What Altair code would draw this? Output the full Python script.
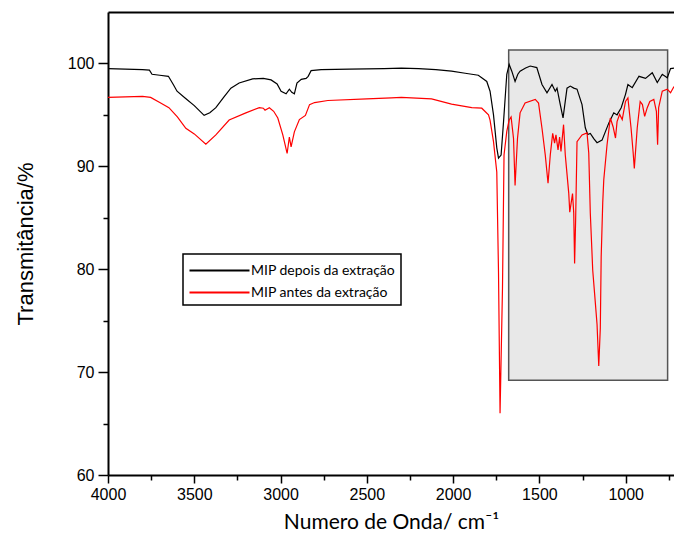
import altair as alt
import pandas as pd

# FTIR spectrum of the MIP after template extraction
wn_depois = [4000, 3900, 3800, 3760, 3745, 3700, 3650, 3620, 3600, 3550, 3500, 3443, 3410,
             3375, 3330, 3288, 3240, 3162, 3100, 3055, 3020, 2997, 2968, 2949, 2935, 2920,
             2905, 2880, 2852, 2840, 2823, 2765, 2600, 2400, 2300, 2200, 2100, 2009, 1930,
             1854, 1805, 1786, 1766, 1747, 1737, 1722, 1708, 1689, 1675, 1660, 1641, 1625,
             1612, 1580, 1553, 1515, 1485, 1456, 1427, 1408, 1398, 1379, 1363, 1340, 1321,
             1301, 1282, 1253, 1234, 1220, 1205, 1185, 1166, 1137, 1098, 1069, 1050, 1026,
             1001, 987, 962, 923, 885, 846, 817, 788, 759, 740, 720]
t_depois = [99.5, 99.45, 99.4, 99.35, 98.95, 98.85, 98.75, 97.9, 97.3, 96.6, 95.9, 94.95, 95.2,
            95.7, 96.7, 97.6, 98.1, 98.5, 98.55, 98.4, 98.0, 97.3, 97.05, 97.5, 97.2, 97.05,
            98.1, 98.45, 98.55, 98.75, 99.3, 99.4, 99.45, 99.5, 99.55, 99.5, 99.4, 99.25, 99.05,
            98.85, 98.25, 97.3, 95.0, 91.8, 90.8, 91.1, 94.3, 98.95, 99.9, 99.25, 98.25, 98.95,
            99.25, 99.55, 99.75, 99.6, 97.95, 97.15, 97.95, 97.3, 97.6, 96.0, 94.7, 97.6, 97.8,
            97.6, 97.5, 96.0, 93.75, 93.1, 93.2, 92.7, 92.3, 92.55, 94.2, 95.2, 95.0, 95.7,
            97.0, 97.95, 97.65, 98.75, 98.55, 99.1, 98.15, 98.95, 98.6, 99.5, 99.55]

# FTIR spectrum of the MIP before template extraction
wn_antes = [4000, 3900, 3800, 3753, 3700, 3647, 3598, 3549, 3500, 3433, 3375, 3298, 3201,
            3123, 3100, 3090, 3065, 3040, 3016, 2987, 2962, 2949, 2939, 2920, 2891, 2856,
            2832, 2803, 2726, 2500, 2358, 2300, 2125, 2009, 1892, 1834, 1795, 1786, 1766,
            1747, 1737, 1728, 1714, 1705, 1689, 1675, 1664, 1650, 1641, 1627, 1612, 1583,
            1524, 1505, 1485, 1466, 1450, 1437, 1423, 1412, 1404, 1392, 1383, 1375, 1360,
            1350, 1330, 1324, 1308, 1301, 1296, 1290, 1282, 1253, 1224, 1214, 1205, 1191,
            1180, 1166, 1156, 1147, 1142, 1133, 1127, 1108, 1089, 1073, 1059, 1050, 1035,
            1020, 1001, 987, 969, 957, 950, 933, 916, 903, 890, 875, 860, 837, 822, 815,
            809, 788, 759, 740, 720]
t_antes = [96.7, 96.75, 96.8, 96.7, 96.2, 95.7, 94.8, 93.7, 93.15, 92.15, 93.05, 94.5, 95.2,
           95.7, 95.65, 95.45, 95.7, 95.35, 94.7, 93.05, 91.25, 92.85, 91.9, 93.35, 94.55, 94.95,
           96.0, 96.2, 96.4, 96.55, 96.65, 96.7, 96.55, 96.05, 95.7, 95.65, 95.0, 94.5, 92.4,
           89.45, 79.7, 66.0, 78.1, 91.1, 93.4, 94.5, 94.8, 92.7, 88.15, 92.7, 95.2, 96.15,
           96.5, 96.15, 93.7, 91.1, 88.35, 91.1, 93.2, 92.25, 93.05, 91.6, 92.85, 91.45, 94.05,
           91.1, 87.4, 85.55, 87.35, 85.45, 80.55, 84.8, 92.4, 93.05, 93.25, 91.3, 85.45, 79.9,
           77.6, 74.65, 70.6, 74.3, 81.2, 86.45, 88.7, 92.1, 94.7, 93.85, 92.75, 94.35, 95.05,
           94.55, 96.3, 96.65, 93.75, 91.4, 89.8, 93.75, 96.3, 96.0, 94.85, 95.7, 96.3, 96.5,
           95.35, 92.1, 95.7, 97.3, 97.5, 97.15, 97.75]

series_names = ["MIP depois da extração", "MIP antes da extração"]
series_colors = ["#000000", "#ff0000"]

# highlighted fingerprint region
region_wn = [1678, 757]
region_t = [69.2, 101.3]

x_ticks = [4000, 3750, 3500, 3250, 3000, 2750, 2500, 2250, 2000, 1750, 1500, 1250, 1000, 750]
y_ticks = [60, 65, 70, 75, 80, 85, 90, 95, 100]

spectra = pd.concat([
    pd.DataFrame({"wn": wn_depois, "t": t_depois, "serie": series_names[0]}),
    pd.DataFrame({"wn": wn_antes, "t": t_antes, "serie": series_names[1]}),
])
region = pd.DataFrame({"x0": [region_wn[0]], "x1": [region_wn[1]],
                       "y0": [region_t[0]], "y1": [region_t[1]]})

x_scale = alt.Scale(domain=[4000, 720], nice=False, zero=False)
y_scale = alt.Scale(domain=[60, 105], nice=False, zero=False)

y_axis = alt.Axis(values=y_ticks,
                  labelExpr="datum.value % 10 === 0 ? datum.label : ''",
                  labelOverlap=False, labelFlush=False, labelPadding=4,
                  tickSize={"condition": {"test": "datum.value % 10 === 0", "value": 10}, "value": 5},
                  title="Transmitância/%", titleFont="Liberation Sans", titleFontSize=22,
                  titleFontWeight="normal", titlePadding=30)

box = alt.Chart(region).mark_rect(
    fill="#e8e8e8", stroke="#555555", strokeWidth=1.5
).encode(
    x=alt.X("x0:Q", scale=x_scale,
            axis=alt.Axis(orient="top", labels=False, ticks=False, title=None,
                          domainColor="black", domainWidth=2, grid=False)),
    x2="x1:Q",
    y=alt.Y("y0:Q", scale=y_scale, axis=y_axis),
    y2="y1:Q",
)

lines = alt.Chart(spectra).mark_line(strokeWidth=1.2, clip=True).encode(
    x=alt.X("wn:Q", scale=x_scale,
            axis=alt.Axis(values=x_ticks, format="d",
                          labelExpr="datum.value % 500 === 0 ? datum.label : ''",
                          labelOverlap=False, labelFlush=False,
                          tickSize={"condition": {"test": "datum.value % 500 === 0", "value": 8}, "value": 5},
                          title="Numero de Onda/ cm⁻¹", titleFont="Lato", titleFontSize=21,
                          titleFontWeight="normal", titlePadding=9)),
    y=alt.Y("t:Q", scale=y_scale, axis=y_axis),
    color=alt.Color("serie:N",
                    scale=alt.Scale(domain=series_names, range=series_colors),
                    legend=alt.Legend(orient="none", legendX=75, legendY=242, title=None,
                                      strokeColor="black", padding=5, rowPadding=3,
                                      symbolType="M-1,0H5", symbolSize=400,
                                      symbolStrokeWidth=2.2, labelOffset=40,
                                      labelFont="Lato", labelFontSize=14,
                                      labelColor="black")),
    detail="serie:N",
)

chart = alt.layer(box, lines).resolve_axis(x="independent").properties(
    width=566, height=463,
    autosize=alt.AutoSizeParams(type="none"),
    padding={"left": 108, "top": 12, "right": 0, "bottom": 56},
).configure_view(stroke=None).configure_axis(
    domainColor="black", domainWidth=2, tickColor="black", tickWidth=1.5,
    labelFont="Liberation Sans", labelFontSize=16, labelColor="black",
    titleColor="black", labelPadding=3, grid=False,
).configure_legend(strokeWidth=1.5)

chart.save("out.html", embed_options={"renderer": "svg", "actions": False})
